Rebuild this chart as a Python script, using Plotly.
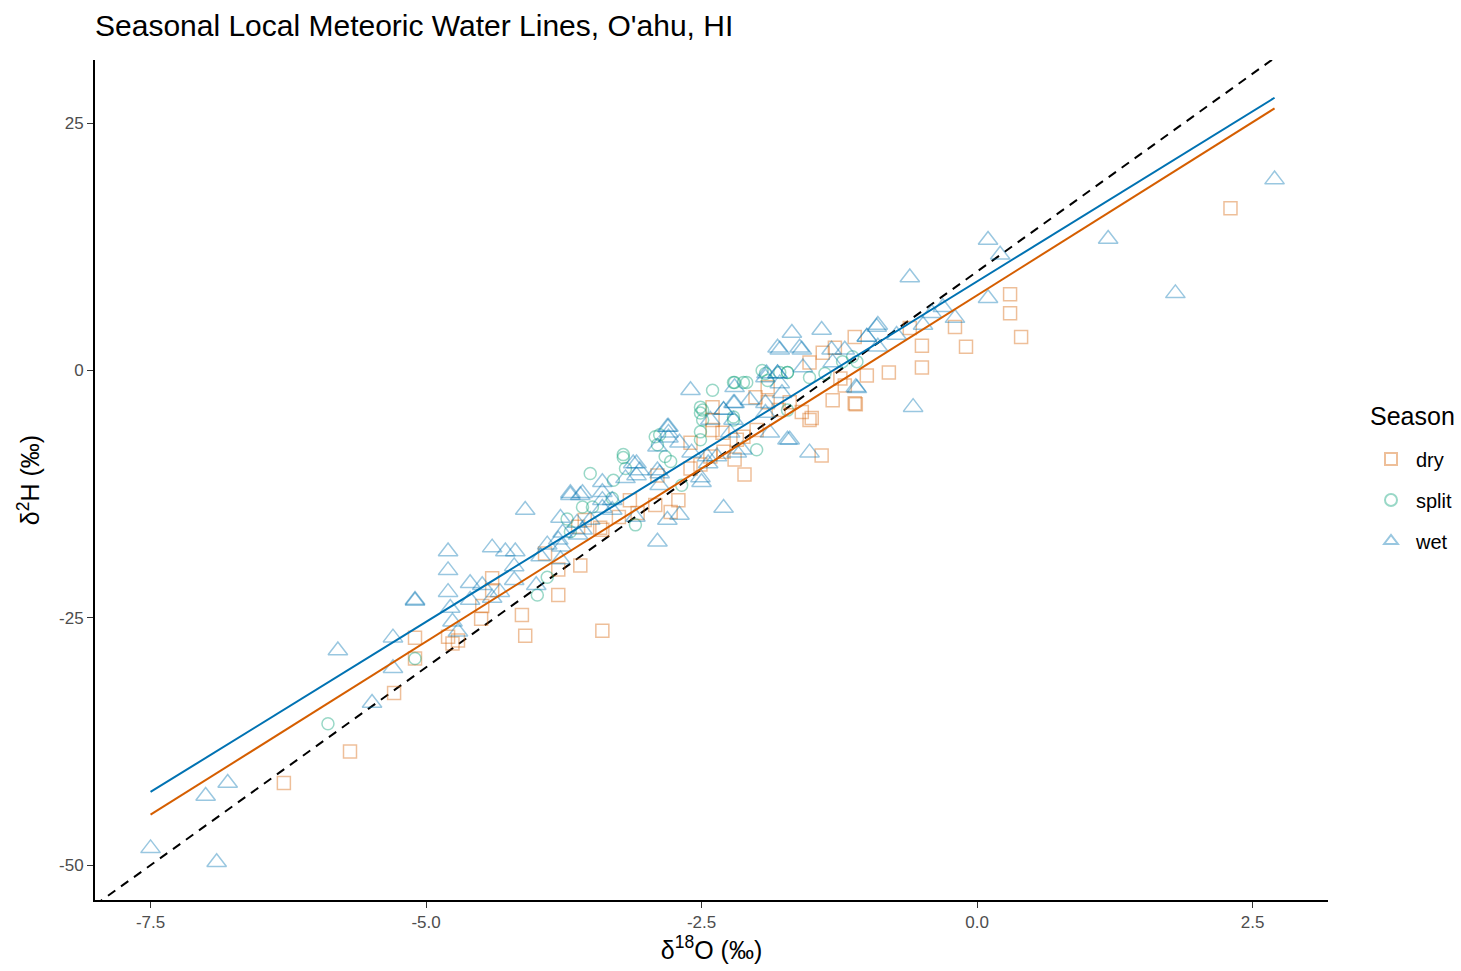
import plotly.graph_objects as go

# ---------------- data ----------------
wet_x = [-7.50, -7.00, -6.80, -6.90, -5.80, -5.49, -5.30, -5.30, -5.10, -5.10,
         -4.80, -4.80, -4.80, -4.78, -4.76, -4.71, -4.60, -4.49, -4.40, -4.40,
         -4.28, -4.19, -4.20, -4.20, -4.10, -4.00, -3.96, -3.90, -3.80, -3.78,
         -3.69, -3.60, -3.58, -3.51, -4.33, -4.60, -3.78,
         -2.81, -2.80, -3.09, -3.09, -3.19, -3.40, -3.40, -3.69, -3.58, -3.40,
         -3.31, -3.40, -3.31, -3.10, -2.88, -2.88, -2.70, -2.81, -2.50, -2.90,
         -3.63, -3.76, -3.62, -3.77,
         -2.60, -2.20, -2.30, -2.21, -2.80, -2.80, -2.90, -2.70, -2.59, -2.44,
         -2.36, -2.51, -2.90, -3.12, -3.06, -2.24, -2.18,
         -1.81, -1.61, -2.20, -1.91, -1.81, -1.79, -1.77, -2.21, -1.92, -1.92,
         -1.72, -1.52, -2.45, -2.30,
         -1.68, -1.41, -1.79, -1.59, -1.32, -1.00, -0.91, -1.92, -1.81, -1.58,
         -1.31, -1.09, -1.70, -1.88,
         -0.61, -0.90, -1.00, -0.90, -0.73, -0.41, -0.31, -0.20, -0.49, 0.10,
         -1.10, -1.20, -0.58,
         0.10, 0.21, 1.19, 1.80, 2.70, -2.30, -2.42, -2.13, -2.06]
wet_y = [-48.3, -43.0, -41.7, -49.7, -28.3, -33.6, -27.0, -30.1, -23.2, -23.3,
         -18.3, -20.2, -22.4, -24.0, -25.4, -26.4, -21.5, -21.7, -17.9, -23.0,
         -18.3, -18.3, -19.8, -21.2, -14.1, -21.7, -18.8, -17.6, -17.1, -14.9,
         -12.6, -12.6, -16.1, -15.1, -22.4, -23.2, -19.1,
         -5.7, -6.8, -9.4, -10.6, -10.9, -11.3, -12.3, -12.4, -12.4, -13.1,
         -13.1, -13.9, -14.1, -14.8, -10.4, -11.6, -14.6, -15.1, -11.3, -17.3,
         -15.4, -16.4, -16.6, -17.8,
         -2.0, -3.3, -4.0, -5.0, -5.7, -6.3, -7.7, -7.3, -8.3, -9.4,
         -8.7, -10.8, -10.1, -9.4, -10.1, -6.3, -8.3,
         2.3, 2.3, -1.7, -0.3, -0.3, -1.3, -2.3, -3.3, -3.3, -4.3,
         -7.0, -8.3, -8.7, -4.0,
         3.8, 4.1, 2.1, 2.1, 2.1, 3.4, 4.4, -0.7, -0.3, 0.3,
         0.8, -1.8, -7.0, -6.3,
         9.4, 4.6, 3.4, 2.4, 3.6, 5.8, 6.4, 5.3, 4.6, 7.3,
         -1.7, 2.1, -3.7,
         13.2, 11.7, 13.3, 7.8, 19.3, -13.9, -5.0, -8.0, -3.0]

dry_x = [-6.29, -5.69, -5.29, -5.10, -5.10, -4.80, -4.71, -4.76, -4.49, -4.40,
         -4.40, -4.50, -4.13, -4.10, -3.80, -3.80, -3.60, -3.40, -3.92, -3.62,
         -3.42, -2.71, -2.78, -2.90, -3.08, -3.40, -2.40, -2.40, -2.40, -2.60,
         -2.30, -2.18, -2.11, -2.42, -2.01, -1.90, -1.90, -1.70, -1.52, -1.52,
         -2.12, -2.31, -1.11, -1.40, -1.29, -1.00, -1.31, -1.11, -1.59, -1.50,
         -1.24, 0.30, 0.30, 0.40, -0.20, -0.10, -0.50, -0.50, -0.80, -0.61,
         -1.20, -1.10, -1.41, 2.30, -3.15, -2.92, -3.56, -2.51, -2.20, -2.00,
         -3.25, -2.60, -1.80]
dry_y = [-41.7, -38.5, -32.6, -27.0, -29.1, -26.9, -27.3, -27.6, -23.8, -21.0,
         -22.2, -25.1, -24.7, -26.8, -22.7, -20.1, -19.7, -26.3, -18.5, -15.8,
         -15.9, -13.1, -14.3, -10.6, -14.4, -16.1, -6.0, -3.7, -5.0, -7.3,
         -8.2, -7.0, -10.5, -8.7, -2.7, -1.7, -3.2, -3.2, 0.8, -5.0,
         -6.7, -6.3, 3.4, 1.8, 2.3, -0.5, -3.0, -3.3, -4.2, -4.8,
         -0.8, 7.7, 5.8, 3.4, 4.4, 2.4, 2.5, 0.3, -0.2, 4.3,
         -1.5, -3.4, -8.6, 16.4, -13.1, -13.6, -15.1, -9.5, -9.0, -6.0,
         -14.8, -9.9, -4.0]

split_x = [-5.89, -5.10, -3.58, -3.90, -3.99, -3.49, -3.31, -3.10, -3.51, -3.30,
           -3.21, -3.19, -2.88, -2.90, -2.78, -2.68, -2.21, -2.12, -2.51, -2.51,
           -2.51, -2.92, -3.21, -2.83, -2.21, -2.20, -2.09, -1.79, -1.72, -1.92,
           -2.49, -2.49, -2.21, -2.00, -2.51, -1.72, -1.52, -1.09, -1.38, -1.72,
           -1.22, -1.13, -3.69, -3.72, -2.40, -1.95, -1.90]
split_y = [-35.7, -29.1, -13.8, -20.9, -22.7, -13.8, -12.9, -15.6, -10.4, -11.1,
           -8.5, -9.9, -6.5, -7.5, -9.2, -11.6, -1.2, -1.2, -3.7, -4.3,
           -6.2, -6.7, -8.8, -8.7, -4.7, -1.2, -1.2, -0.2, -0.2, -0.3,
           -4.0, -5.0, -5.0, -8.0, -7.0, -0.2, -0.7, 0.9, -0.3, -4.0,
           0.9, 1.4, -16.3, -15.0, -2.0, 0.0, -1.0]

wet_fit = (6.88, 9.0)
dry_fit = (7.00, 7.6)
fit_range = [-7.5, 2.7]
gmwl = (8.0, 10.0)

x_range = [-8.004, 3.185]
y_range = [-53.52, 31.39]
x_ticks = [-7.5, -5.0, -2.5, 0.0, 2.5]
x_ticklabels = ["-7.5", "-5.0", "-2.5", "0.0", "2.5"]
y_ticks = [-50, -25, 0, 25]
y_ticklabels = ["-50", "-25", "0", "25"]

# ---------------- figure ----------------
W, H = 1461, 971
FONT = "Liberation Sans, Arial, sans-serif"
ORANGE = "#D55E00"
GREEN = "#009E73"
BLUE = "#0072B2"

fig = go.Figure()

fig.add_trace(go.Scatter(
    x=x_range, y=[gmwl[0] * v + gmwl[1] for v in x_range], mode="lines",
    line=dict(color="black", width=2, dash="9px,7px"), showlegend=False,
    hoverinfo="skip"))

fig.add_trace(go.Scatter(
    x=dry_x, y=dry_y, mode="markers", name="dry", legendgroup="dry",
    marker=dict(symbol="square-open", size=13, color=ORANGE, opacity=0.4,
                line=dict(width=1.5))))
fig.add_trace(go.Scatter(
    x=split_x, y=split_y, mode="markers", name="split", legendgroup="split",
    marker=dict(symbol="circle-open", size=12, color=GREEN, opacity=0.4,
                line=dict(width=1.5))))
fig.add_trace(go.Scatter(
    x=wet_x, y=wet_y, mode="markers", name="wet", legendgroup="wet",
    marker=dict(symbol="triangle-up-open", size=17, color=BLUE, opacity=0.4,
                line=dict(width=1.5))))

fig.add_trace(go.Scatter(
    x=fit_range, y=[dry_fit[0] * v + dry_fit[1] for v in fit_range],
    mode="lines", line=dict(color=ORANGE, width=2), showlegend=False,
    hoverinfo="skip"))
fig.add_trace(go.Scatter(
    x=fit_range, y=[wet_fit[0] * v + wet_fit[1] for v in fit_range],
    mode="lines", line=dict(color=BLUE, width=2), showlegend=False,
    hoverinfo="skip"))

fig.update_layout(
    width=W, height=H,
    margin=dict(l=95, r=133, t=60, b=71, autoexpand=False),
    paper_bgcolor="white", plot_bgcolor="white",
    font=dict(family=FONT, color="black"),
    title=dict(text="Seasonal Local Meteoric Water Lines, O'ahu, HI",
               x=95 / W, xanchor="left", y=1 - 25 / H, yanchor="middle",
               font=dict(size=30, family=FONT, color="black")),
    legend=dict(font=dict(size=20), xref="container", yref="container",
                x=1366 / W, xanchor="left", y=1 - 500 / H,
                yanchor="middle", bgcolor="rgba(0,0,0,0)",
                itemsizing="constant", traceorder="grouped",
                tracegroupgap=12, itemwidth=40),
    annotations=[dict(text="Season", xref="paper", yref="paper",
                      x=(1368 - 95) / (W - 95 - 133), xanchor="left",
                      y=(H - 71 - 416) / (H - 60 - 71), yanchor="middle",
                      showarrow=False, font=dict(size=25, color="black"))],
    showlegend=True,
)

fig.update_xaxes(
    range=x_range, tickvals=x_ticks, ticktext=x_ticklabels,
    showgrid=False, zeroline=False, showline=True, linecolor="black",
    linewidth=2, ticks="outside", ticklen=6, tickcolor="#333333",
    tickfont=dict(size=17, color="#4D4D4D"),
    title=dict(text="δ<sup>18</sup>O (‰)", font=dict(size=25), standoff=10))
fig.update_yaxes(
    range=y_range, tickvals=y_ticks, ticktext=y_ticklabels,
    showgrid=False, zeroline=False, showline=True, linecolor="black",
    linewidth=2, ticks="outside", ticklen=6, tickcolor="#333333",
    tickfont=dict(size=17, color="#4D4D4D"),
    title=dict(text="δ<sup>2</sup>H (‰)", font=dict(size=25), standoff=12))

fig.write_html("out.html")
